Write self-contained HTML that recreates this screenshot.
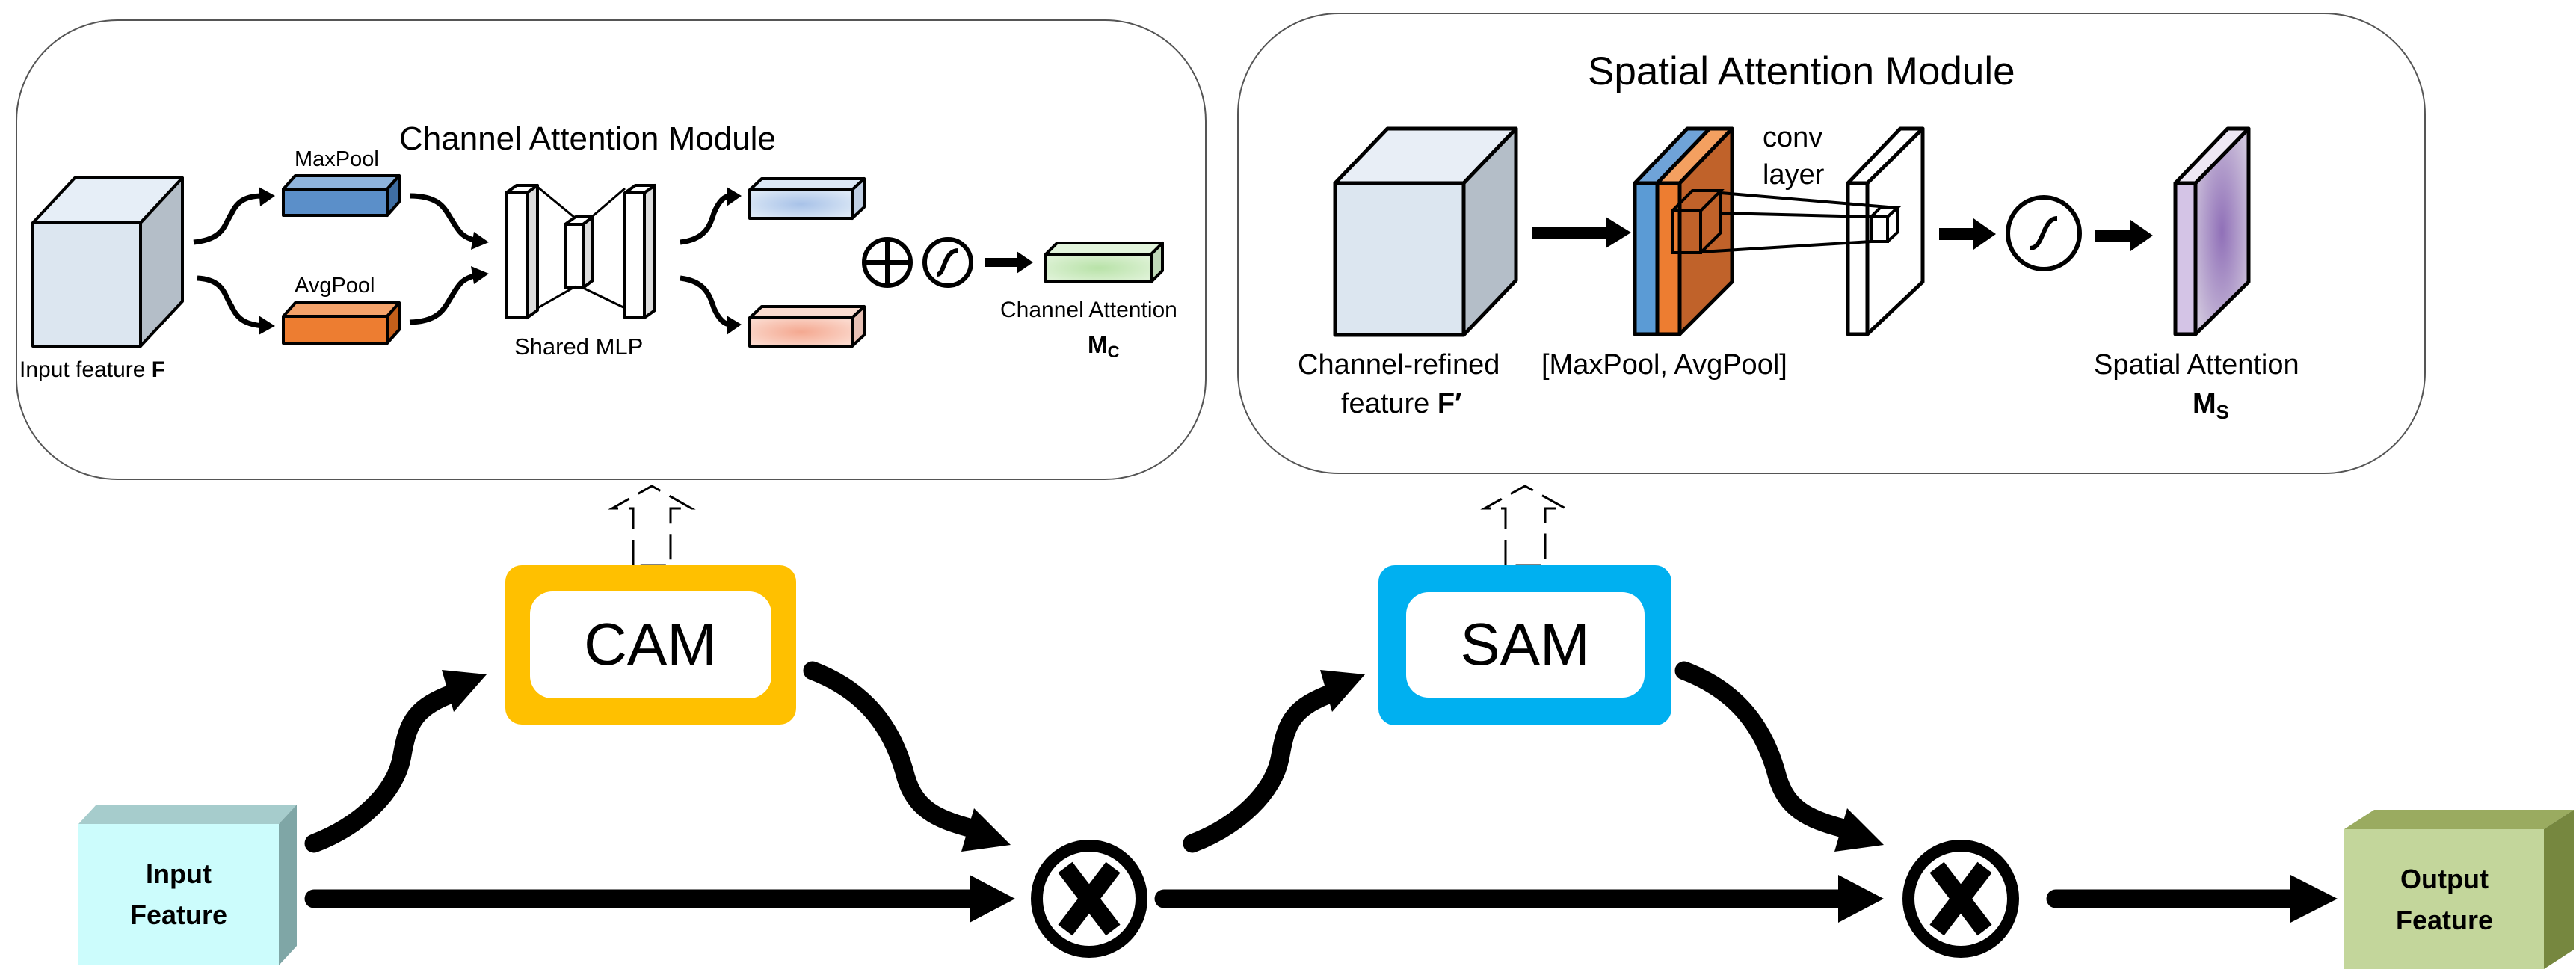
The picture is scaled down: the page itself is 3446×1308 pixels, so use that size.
<!DOCTYPE html>
<html><head><meta charset="utf-8"><style>
html,body{margin:0;padding:0;background:#fff;}
svg{display:block;}
text{font-family:"Liberation Sans",sans-serif;}
</style></head><body>
<svg width="3446" height="1308" viewBox="0 0 3446 1308" xmlns="http://www.w3.org/2000/svg">
<defs>
<radialGradient id="gb" cx="50%" cy="50%" r="60%"><stop offset="0" stop-color="#a8c2e8"/><stop offset="1" stop-color="#dce8f6"/></radialGradient>
<radialGradient id="gs" cx="50%" cy="50%" r="60%"><stop offset="0" stop-color="#f4a890"/><stop offset="1" stop-color="#fbd8cc"/></radialGradient>
<radialGradient id="gg" cx="50%" cy="50%" r="60%"><stop offset="0" stop-color="#b8e2a8"/><stop offset="1" stop-color="#def2d6"/></radialGradient>
<radialGradient id="gp" cx="50%" cy="50%" r="60%"><stop offset="0" stop-color="#9070b8"/><stop offset="1" stop-color="#cfc4dc"/></radialGradient>
</defs>

<!-- CAM panel -->
<rect x="22" y="27" width="1591" height="614" rx="135" ry="135" fill="#fff" stroke="#555" stroke-width="2"/>
<text x="534" y="200" font-size="44">Channel Attention Module</text>
<g stroke="#000" stroke-width="4" stroke-linejoin="round">
<!-- input cube -->
<polygon points="44,298 100,238 244,238 188,298" fill="#e6eef7"/>
<polygon points="188,298 244,238 244,403 188,463" fill="#b4bec8"/>
<rect x="44" y="298" width="144" height="165" fill="#dce6f0"/>
<!-- maxpool -->
<polygon points="379,253 395,235 534,235 518,253" fill="#8fb4dc"/>
<polygon points="518,253 534,235 534,270 518,288" fill="#3f6ea3"/>
<rect x="379" y="253" width="139" height="35" fill="#5b8fc9"/>
<!-- avgpool -->
<polygon points="379,423 395,405 534,405 518,423" fill="#f4a26a"/>
<polygon points="518,423 534,405 534,441 518,459" fill="#c55f1a"/>
<rect x="379" y="423" width="139" height="36" fill="#ed7d31"/>
<!-- MLP -->
<polygon points="677,258 691,248 719,248 705,258" fill="#fff"/>
<polygon points="705,258 719,248 719,415 705,425" fill="#ddd"/>
<rect x="677" y="258" width="28" height="167" fill="#fff"/>
<polygon points="756,300 770,290 793,290 780,300" fill="#fff"/>
<polygon points="780,300 793,290 793,375 780,385" fill="#ddd"/>
<rect x="756" y="300" width="24" height="85" fill="#fff"/>
<polygon points="836,258 850,248 876,248 862,258" fill="#fff"/>
<polygon points="862,258 876,248 876,415 862,425" fill="#ddd"/>
<rect x="836" y="258" width="26" height="167" fill="#fff"/>
</g>
<g stroke="#000" stroke-width="3">
<line x1="719" y1="250" x2="770" y2="292"/><line x1="719" y1="412" x2="770" y2="383"/>
<line x1="780" y1="300" x2="836" y2="252"/><line x1="780" y1="385" x2="836" y2="412"/>
</g>
<g stroke="#000" stroke-width="4" stroke-linejoin="round">
<polygon points="1003,254 1019,239 1156,239 1140,254" fill="#dce8f6"/>
<polygon points="1140,254 1156,239 1156,277 1140,292" fill="#c0cfe4"/>
<rect x="1003" y="254" width="137" height="38" fill="url(#gb)"/>
<polygon points="1003,425 1019,410 1156,410 1140,425" fill="#fbdcd0"/>
<polygon points="1140,425 1156,410 1156,448 1140,463" fill="#e8c0b4"/>
<rect x="1003" y="425" width="137" height="38" fill="url(#gs)"/>
<polygon points="1399,340 1414,325 1555,325 1540,340" fill="#e2f4dc"/>
<polygon points="1540,340 1555,325 1555,362 1540,377" fill="#c0d8b8"/>
<rect x="1399" y="340" width="141" height="37" fill="url(#gg)"/>
</g>
<!-- thin curved arrows in CAM -->
<g stroke="#000" stroke-width="7" fill="none">
<path d="M259,324 C300,320 300,300 310,285 C318,268 330,262 352,262"/>
<path d="M264,372 C300,374 300,395 310,410 C318,428 330,434 352,436"/>
<path d="M548,262 C590,262 595,280 605,295 C615,312 620,318 638,322"/>
<path d="M548,431 C590,430 595,410 605,395 C615,378 620,372 638,368"/>
<path d="M910,324 C945,320 950,300 955,285 C962,268 970,262 977,262"/>
<path d="M910,372 C945,376 950,398 955,412 C962,428 970,434 977,434"/>
</g>
<g fill="#000">
<polygon points="368,262 346,250 348,276"/>
<polygon points="368,436 346,422 346,448"/>
<polygon points="654,324 634,310 630,334"/>
<polygon points="654,366 630,356 634,380"/>
<polygon points="992,262 972,250 972,276"/>
<polygon points="992,434 972,422 972,448"/>
<rect x="1317" y="345" width="46" height="12"/>
<polygon points="1382,351 1360,336 1360,366"/>
</g>
<g stroke="#000" stroke-width="6" fill="none">
<circle cx="1187" cy="351" r="31"/>
<line x1="1187" y1="323" x2="1187" y2="379"/><line x1="1159" y1="351" x2="1215" y2="351"/>
<circle cx="1268" cy="351" r="31"/>
<path d="M1254,367 C1264,367 1262,335 1282,335"/>
</g>
<text x="26" y="504" font-size="30">Input feature <tspan font-weight="bold">F</tspan></text>
<text x="394" y="222" font-size="29">MaxPool</text>
<text x="394" y="391" font-size="29">AvgPool</text>
<text x="688" y="474" font-size="31">Shared MLP</text>
<text x="1338" y="424" font-size="30">Channel Attention</text>
<text x="1455" y="472" font-size="32" font-weight="bold">M<tspan font-size="22" dy="6">C</tspan></text>

<!-- SAM panel -->
<rect x="1656" y="18" width="1588" height="615" rx="135" ry="135" fill="#fff" stroke="#555" stroke-width="2"/>
<text x="2124" y="113" font-size="53">Spatial Attention Module</text>
<g stroke="#000" stroke-width="5" stroke-linejoin="round">
<polygon points="1786,245 1856,172 2028,172 1958,245" fill="#e8eef6"/>
<polygon points="1958,245 2028,172 2028,375 1958,448" fill="#b4bec8"/>
<rect x="1786" y="245" width="172" height="203" fill="#dce6f0"/>
<!-- slab -->
<polygon points="2187,245 2257,172 2287,172 2217,245" fill="#6fa3d8"/>
<polygon points="2217,245 2287,172 2317,172 2247,245" fill="#f4a060"/>
<polygon points="2247,245 2317,172 2317,377 2247,447" fill="#c0622a"/>
<rect x="2187" y="245" width="30" height="202" fill="#5b9bd5"/>
<rect x="2217" y="245" width="30" height="202" fill="#ed7d31"/>
<!-- conv plate -->
<polygon points="2472,245 2542,172 2572,172 2498,245" fill="#fff"/>
<polygon points="2498,245 2572,172 2572,377 2498,447" fill="#fff"/>
<rect x="2472" y="245" width="26" height="202" fill="#fff"/>
<!-- purple plate -->
<polygon points="2910,245 2980,172 3008,172 2937,245" fill="#eee8f4"/>
<polygon points="2937,245 3008,172 3008,377 2937,447" fill="url(#gp)"/>
<rect x="2910" y="245" width="27" height="202" fill="#d4c4e6"/>
</g>
<g stroke="#000" stroke-width="4" fill="none">
<rect x="2237" y="282" width="38" height="56"/>
<polyline points="2237,282 2264,255 2302,255 2275,282"/>
<polyline points="2302,255 2302,311 2275,338"/>
<rect x="2503" y="290" width="22" height="33" fill="#fff"/>
<polyline points="2503,290 2515,278 2538,278 2525,290"/>
<polyline points="2538,278 2538,311 2525,323"/>
<line x1="2302" y1="258" x2="2538" y2="278"/>
<line x1="2302" y1="285" x2="2503" y2="290"/>
<line x1="2275" y1="337" x2="2503" y2="323"/>
<circle cx="2734" cy="312" r="48" stroke-width="6"/>
<path d="M2716,332 C2734,332 2732,292 2752,292" stroke-width="6"/>
</g>
<g fill="#000">
<rect x="2050" y="303" width="100" height="16"/><polygon points="2182,311 2148,290 2148,332"/>
<rect x="2594" y="305" width="50" height="16"/><polygon points="2670,313 2640,292 2640,334"/>
<rect x="2803" y="307" width="50" height="16"/><polygon points="2880,315 2850,294 2850,336"/>
</g>
<text x="2358" y="196" font-size="38">conv</text>
<text x="2358" y="246" font-size="38">layer</text>
<text x="1736" y="500" font-size="38">Channel-refined</text>
<text x="1794" y="552" font-size="38">feature <tspan font-weight="bold">F′</tspan></text>
<text x="2062" y="500" font-size="38">[MaxPool, AvgPool]</text>
<text x="2801" y="500" font-size="38">Spatial Attention</text>
<text x="2933" y="552" font-size="38" font-weight="bold">M<tspan font-size="26" dy="8">S</tspan></text>

<!-- dashed up arrows -->
<g stroke="#000" stroke-width="3" fill="none" stroke-dasharray="34,14">
<path d="M847,756 L847,680 L819,680 L872,650 L925,680 L897,680 L897,756 Z"/>
<path d="M2014,756 L2014,680 L1986,680 L2040,650 L2094,680 L2067,680 L2067,756 Z"/>
</g>

<!-- CAM / SAM boxes -->
<rect x="676" y="756" width="389" height="213" rx="22" fill="#ffc000"/>
<rect x="709" y="791" width="323" height="143" rx="30" fill="#fff"/>
<text x="870" y="889" font-size="80" text-anchor="middle">CAM</text>
<rect x="1844" y="756" width="392" height="214" rx="22" fill="#00b0f0"/>
<rect x="1881" y="792" width="319" height="141" rx="30" fill="#fff"/>
<text x="2040" y="889" font-size="80" text-anchor="middle">SAM</text>

<!-- input / output feature boxes -->
<polygon points="105,1102 129,1076 397,1076 373,1102" fill="#a6cccc"/>
<polygon points="373,1102 397,1076 397,1265 373,1291" fill="#7fa6a6"/>
<rect x="105" y="1102" width="268" height="189" fill="#ccfcfc"/>
<text x="239" y="1181" font-size="36" font-weight="bold" text-anchor="middle">Input</text>
<text x="239" y="1236" font-size="36" font-weight="bold" text-anchor="middle">Feature</text>
<polygon points="3136,1109 3176,1083 3443,1083 3403,1109" fill="#9aab60"/>
<polygon points="3403,1109 3443,1083 3443,1270 3403,1296" fill="#76873f"/>
<rect x="3136" y="1109" width="267" height="187" fill="#c3d69b"/>
<text x="3270" y="1188" font-size="36" font-weight="bold" text-anchor="middle">Output</text>
<text x="3270" y="1243" font-size="36" font-weight="bold" text-anchor="middle">Feature</text>

<!-- thick arrows -->
<g stroke="#000" stroke-width="25" fill="none" stroke-linecap="round">
<line x1="420" y1="1202" x2="1300" y2="1202"/>
<line x1="1557" y1="1202" x2="2465" y2="1202"/>
<line x1="2750" y1="1202" x2="3070" y2="1202"/>
<path d="M420,1128 C480,1105 530,1060 538,1010 C546,965 555,945 612,925"/>
<path d="M1595,1128 C1655,1105 1705,1060 1713,1010 C1721,965 1730,945 1787,925"/>
<path d="M1087,897 C1160,925 1195,975 1212,1040 C1224,1080 1250,1095 1300,1108"/>
<path d="M2253,897 C2326,925 2361,975 2378,1040 C2390,1080 2416,1095 2466,1108"/>
</g>
<g fill="#000">
<polygon points="1358,1202 1297,1170 1297,1234"/>
<polygon points="2520,1202 2459,1170 2459,1234"/>
<polygon points="3127,1202 3064,1170 3064,1234"/>
<polygon points="651,902 591,896 607,952"/>
<polygon points="1826,902 1766,896 1782,952"/>
<polygon points="1352,1130 1303,1081 1286,1139"/>
<polygon points="2520,1130 2471,1081 2454,1139"/>
</g>
<!-- otimes -->
<g>
<ellipse cx="1457" cy="1202" rx="70" ry="71" fill="#fff" stroke="#000" stroke-width="16"/>
<g stroke="#000" stroke-width="24"><line x1="1425" y1="1160" x2="1489" y2="1244"/><line x1="1489" y1="1160" x2="1425" y2="1244"/></g>
<ellipse cx="2623" cy="1202" rx="70" ry="71" fill="#fff" stroke="#000" stroke-width="16"/>
<g stroke="#000" stroke-width="24"><line x1="2591" y1="1160" x2="2655" y2="1244"/><line x1="2655" y1="1160" x2="2591" y2="1244"/></g>
</g>
</svg>
</body></html>
